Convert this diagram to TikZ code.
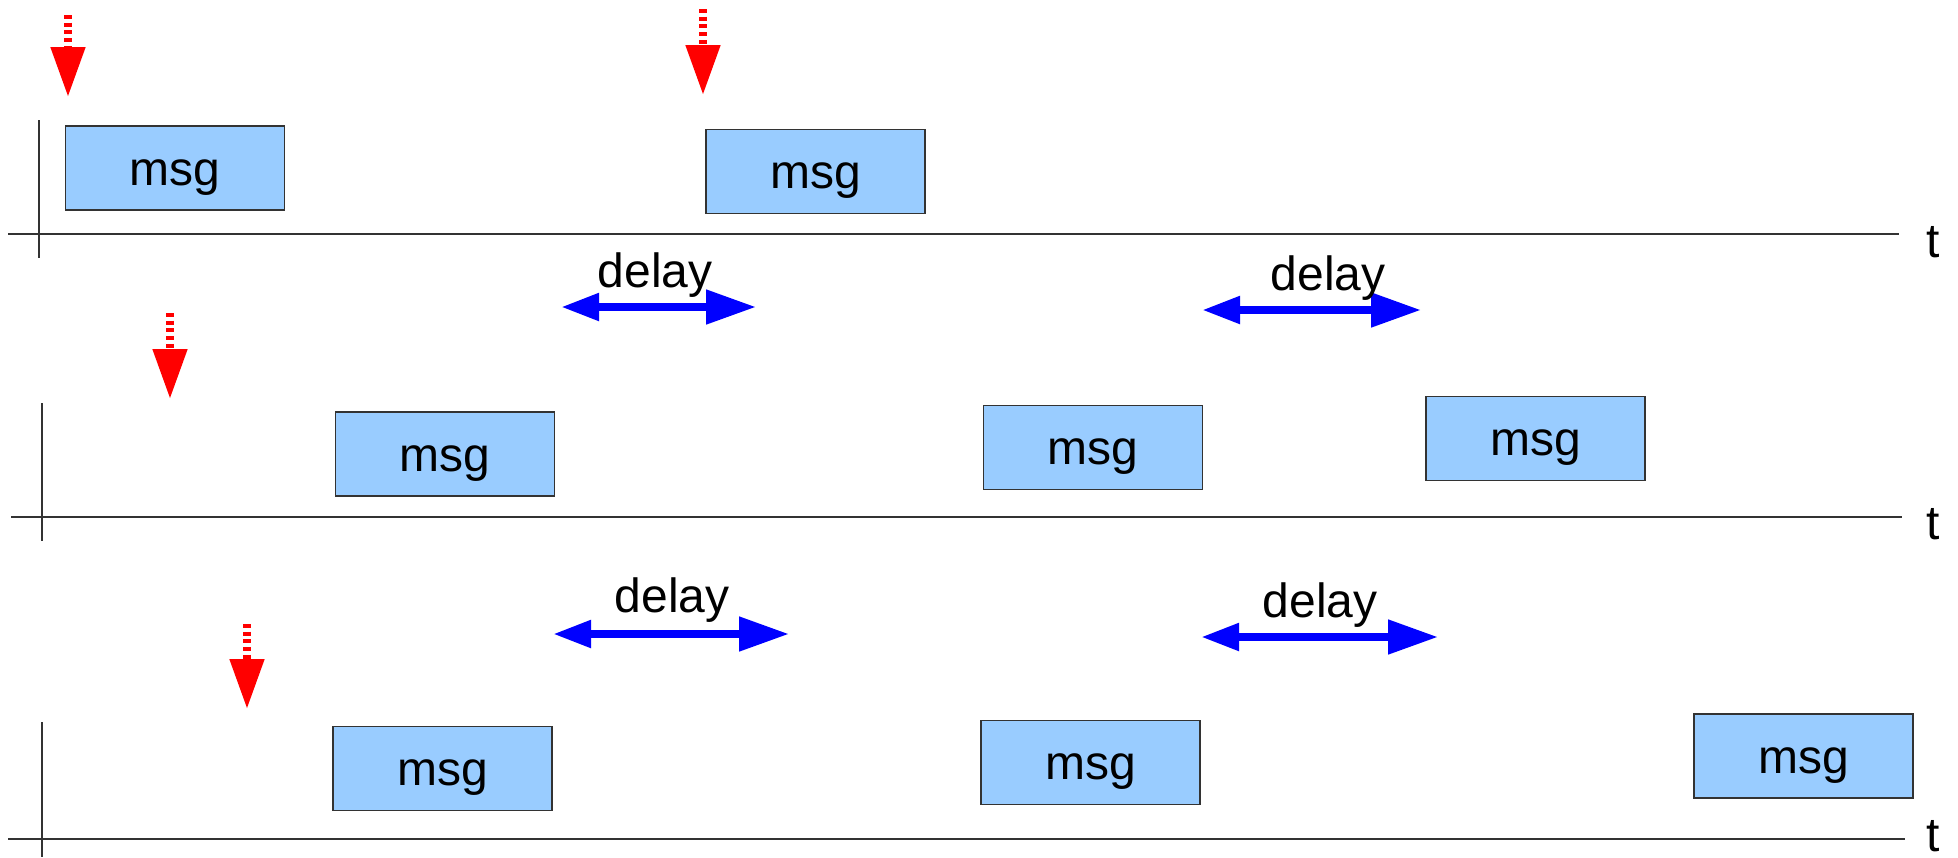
\documentclass[tikz,border=0pt]{standalone}
\usepackage{fontspec}
\setmainfont{Liberation Sans}
\usetikzlibrary{arrows.meta}
\definecolor{msgblue}{HTML}{99CCFF}

\begin{document}
\begin{tikzpicture}[x=0.5pt,y=-0.5pt,
  msgbox/.style={draw=black!80, line width=0.7pt, fill=msgblue,
    minimum width=109.5pt, minimum height=42pt, inner sep=0pt,
    font=\fontsize{24}{28}\selectfont, text height=22pt, text depth=5pt},
  lbl/.style={anchor=base, inner sep=0pt, font=\fontsize{24}{28}\selectfont},
  axis/.style={black!80, line width=0.8pt},
  trigger/.style={red, line width=4pt, dash pattern=on 1.9pt off 1.95pt,
    -{Triangle[length=25pt,width=16.5pt]}},
  delayarrow/.style={blue, line width=4pt,
    {Triangle[length=19pt,width=13pt]}-{Triangle[length=25pt,width=16.5pt]}}]
\useasboundingbox (0,0) rectangle (1958,857);

% Time axes
\draw[axis] (8,234) -- (1899,234);
\draw[axis] (39,120) -- (39,258);
\draw[axis] (11,517) -- (1902,517);
\draw[axis] (42,403) -- (42,541);
\draw[axis] (8,839) -- (1905,839);
\draw[axis] (42,722) -- (42,857);

% Axis labels
\node[lbl] (t1) at (1933,257) {t};
\node[lbl] (t2) at (1933,539) {t};
\node[lbl] (t3) at (1933,851) {t};

% Messages
\node[msgbox] (m1) at (175,168) {msg};
\node[msgbox] (m2) at (815.5,171.5) {msg};
\node[msgbox] (m3) at (445,454) {msg};
\node[msgbox] (m4) at (1093,447.5) {msg};
\node[msgbox] (m5) at (1535.5,438.5) {msg};
\node[msgbox] (m6) at (442.5,768.5) {msg};
\node[msgbox] (m7) at (1090.5,762.5) {msg};
\node[msgbox] (m8) at (1803.5,756) {msg};

% Triggers
\coordinate (r1a) at (68,15);  \coordinate (r1b) at (68,97);
\coordinate (r2a) at (703,9);  \coordinate (r2b) at (703,95);
\coordinate (r3a) at (170,313); \coordinate (r3b) at (170,399);
\coordinate (r4a) at (247,624); \coordinate (r4b) at (247,709);
\draw[trigger] (r1a) -- (r1b);
\draw[trigger] (r2a) -- (r2b);
\draw[trigger] (r3a) -- (r3b);
\draw[trigger] (r4a) -- (r4b);

% Delays
\coordinate (d1a) at (561,307);  \coordinate (d1b) at (756,307);
\coordinate (d2a) at (1202,310); \coordinate (d2b) at (1421,310);
\coordinate (d3a) at (553,634);  \coordinate (d3b) at (789,634);
\coordinate (d4a) at (1201,637); \coordinate (d4b) at (1438,637);
\draw[delayarrow] (d1a) -- (d1b);
\draw[delayarrow] (d2a) -- (d2b);
\draw[delayarrow] (d3a) -- (d3b);
\draw[delayarrow] (d4a) -- (d4b);
\node[lbl] (d1) at (655,287) {delay};
\node[lbl] (d2) at (1328,290) {delay};
\node[lbl] (d3) at (672,612) {delay};
\node[lbl] (d4) at (1320,617) {delay};
\end{tikzpicture}
\end{document}
